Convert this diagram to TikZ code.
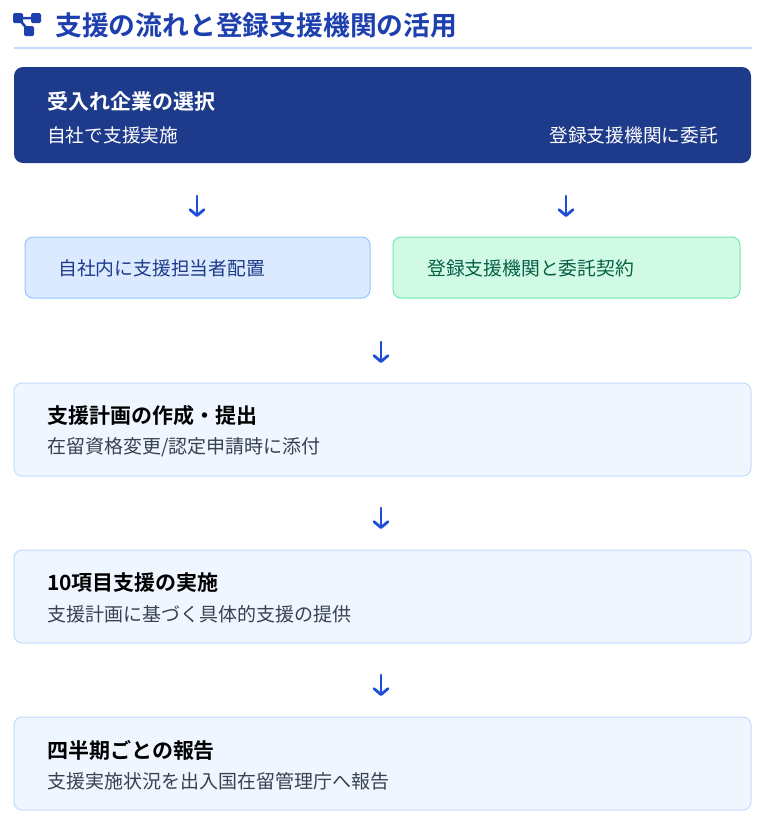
\documentclass[tikz,border=0pt]{standalone}
\usepackage{fontspec}
\setmainfont{Noto Sans CJK JP}
\newfontfamily\jpbold{Noto Sans CJK JP Bold}
\usetikzlibrary{arrows.meta}
\definecolor{navy}{HTML}{1E3A8A}
\definecolor{tblue}{HTML}{1E40AF}
\definecolor{abl}{HTML}{1D4ED8}
\definecolor{lb}{HTML}{DBEAFE}
\definecolor{lbb}{HTML}{93C5FD}
\definecolor{lg}{HTML}{D1FAE5}
\definecolor{lgb}{HTML}{6EE7B7}
\definecolor{dg}{HTML}{065F46}
\definecolor{pale}{HTML}{EFF6FF}
\definecolor{paleb}{HTML}{BFDBFE}
\definecolor{sub}{HTML}{374151}
\begin{document}
\begin{tikzpicture}[x=1pt,y=-1pt,
 arr/.style={abl,line width=2.8pt,line cap=round,-{Straight Barb[length=6pt,width=14pt,line cap=round,line join=round]}},
 head/.style={anchor=west,font=\jpbold\fontsize{21}{24}\selectfont},
 subt/.style={anchor=west,font=\fontsize{19}{21}\selectfont,text=sub},
 stepbox/.style={draw=paleb,fill=pale,rounded corners=8pt,line width=1pt}]
\useasboundingbox (0,0) rectangle (778,822);
% icon
\draw[tblue,line width=2.5pt] (18,18)--(36,18) (18,18)--(29,31);
\fill[tblue,rounded corners=1.5pt] (13,13) rectangle (23,23) (31,13) rectangle (41,23) (24,26) rectangle (34,36);
\node[anchor=west,text=tblue,font=\jpbold\fontsize{26.8}{30}\selectfont,inner sep=0pt] (title) at (55,25) {支援の流れと登録支援機関の活用};
\draw[paleb,line width=1.5pt] (14,48)--(752,48);
% top box
\fill[navy,rounded corners=9pt] (14,67) rectangle (751,163);
\node[head,text=white,inner sep=0pt] (sel) at (47,101) {受入れ企業の選択};
\node[anchor=west,text=white,font=\fontsize{18.7}{21}\selectfont,inner sep=0pt] (own) at (47,135) {自社で支援実施};
\node[anchor=east,text=white,font=\fontsize{18.7}{21}\selectfont,inner sep=0pt] (ent) at (718,135) {登録支援機関に委託};
\coordinate (a1s) at (197,196); \coordinate (a1e) at (197,217);
\coordinate (a2s) at (566,196); \coordinate (a2e) at (566,217);
\draw[arr] (a1s)--(a1e); \draw[arr] (a2s)--(a2e);
\draw[draw=lbb,fill=lb,rounded corners=8pt,line width=1pt] (25,237) rectangle (370,298);
\node[anchor=west,text=navy,font=\fontsize{18.8}{21}\selectfont,inner sep=0pt] (l) at (58,268) {自社内に支援担当者配置};
\draw[draw=lgb,fill=lg,rounded corners=8pt,line width=1pt] (393,237) rectangle (740,298);
\node[anchor=west,text=dg,font=\fontsize{18.8}{21}\selectfont,inner sep=0pt] (r) at (427,268) {登録支援機関と委託契約};
\coordinate (a3s) at (381,342); \coordinate (a3e) at (381,363);
\draw[arr] (a3s)--(a3e);
\draw[stepbox] (14,383) rectangle (751,476);
\node[head,inner sep=0pt] (b1) at (47,416) {支援計画の作成・提出};
\node[subt,inner sep=0pt] (b1s) at (47,447) {在留資格変更/認定申請時に添付};
\coordinate (a4s) at (381,508); \coordinate (a4e) at (381,529);
\draw[arr] (a4s)--(a4e);
\draw[stepbox] (14,550) rectangle (751,643);
\node[head,inner sep=0pt] (b2) at (47,583) {10項目支援の実施};
\node[subt,inner sep=0pt] (b2s) at (47,614) {支援計画に基づく具体的支援の提供};
\coordinate (a5s) at (381,675); \coordinate (a5e) at (381,696);
\draw[arr] (a5s)--(a5e);
\draw[stepbox] (14,717) rectangle (751,810);
\node[head,inner sep=0pt] (b3) at (47,750) {四半期ごとの報告};
\node[subt,inner sep=0pt] (b3s) at (47,781) {支援実施状況を出入国在留管理庁へ報告};
\end{tikzpicture}
\end{document}
